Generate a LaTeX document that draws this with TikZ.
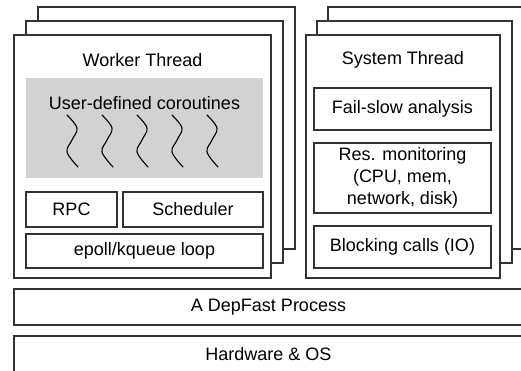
\documentclass[tikz,border=0pt]{standalone}
\usepackage{fontspec}
\setmainfont{Liberation Sans}

\begin{document}
\begin{tikzpicture}[x=1pt,y=-1pt,
    box/.style={draw=black!80, line width=1.4pt, fill=white, inner sep=0pt, outer sep=0pt},
    lbl/.style={font=\fontsize{18}{22}\selectfont, align=center},
    squig/.style={line width=1.1pt, line cap=round}]
    \useasboundingbox (0,0) rectangle (521,370);
    \clip (0,0) rectangle (521,370);
    % worker thread stack
    \node[box, minimum width=257pt, minimum height=242pt] (wt3) at (166.5,128) {};
    \node[box, minimum width=257pt, minimum height=242pt] (wt2) at (154.5,142) {};
    \node[box, minimum width=257pt, minimum height=243pt] (wt1) at (142.5,156.5) {};
    \node[lbl] (wtitle) at (142.5,60) {Worker Thread};
    \node[fill=gray!35, minimum width=237pt, minimum height=100pt, inner sep=0pt] (coro) at (144.5,128) {};
    \node[lbl] (corotext) at (144.5,103) {User-defined coroutines};
    \foreach \x in {67,102,137,172,207}
      \draw[squig] plot[smooth, tension=0.6] coordinates {(\x,115) (\x+10,128) (\x+5,140) (\x,152) (\x+11,167)};
    \node[box, lbl, minimum width=91pt, minimum height=35pt] (rpc) at (71.5,209.5) {RPC};
    \node[box, lbl, minimum width=140pt, minimum height=35pt] (sched) at (193,209.5) {Scheduler};
    \node[box, lbl, minimum width=237pt, minimum height=34pt] (epoll) at (144.5,251) {epoll/kqueue loop};
    % system thread stack
    \node[box, minimum width=212pt, minimum height=242pt] (st3) at (434,128) {};
    \node[box, minimum width=195pt, minimum height=242pt] (st2) at (414.5,142) {};
    \node[box, minimum width=194pt, minimum height=243pt] (st1) at (403,156.5) {};
    \node[lbl] (stitle) at (403,60) {System Thread};
    \node[box, lbl, minimum width=177pt, minimum height=42pt] (failslow) at (402.5,109) {Fail-slow analysis};
    \node[box, lbl, minimum width=177pt, minimum height=70pt] (resmon) at (402.5,178) {Res. monitoring\\(CPU, mem,\\network, disk)};
    \node[box, lbl, minimum width=177pt, minimum height=42pt] (block) at (402.5,247) {Blocking calls (IO)};
    % layers below
    \node[box, lbl, minimum width=509pt, minimum height=36pt] (proc) at (268.5,307) {A DepFast Process};
    \node[box, minimum width=509pt, minimum height=50pt] (hwos) at (268.5,361) {};
    \node[lbl] (hwtext) at (268.5,354) {Hardware \& OS};
\end{tikzpicture}
\end{document}
